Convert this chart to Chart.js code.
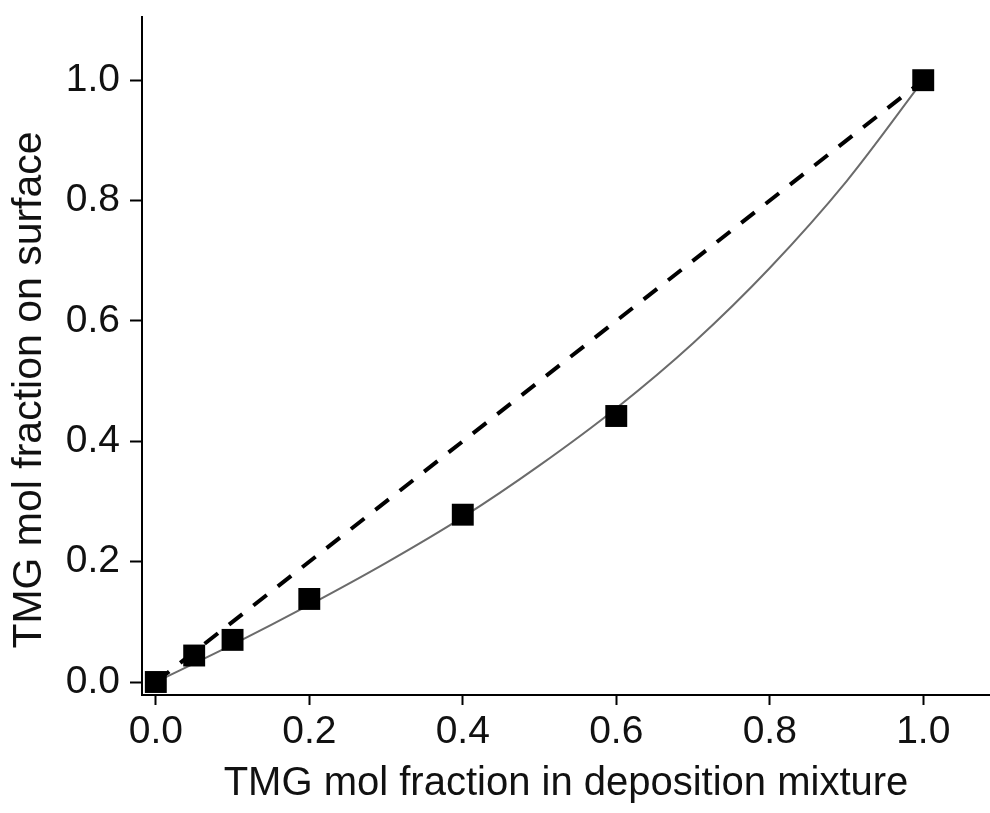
<!DOCTYPE html>
<html>
<head>
<meta charset="utf-8">
<script src="https://cdn.jsdelivr.net/npm/chart.js@4.4.1/dist/chart.umd.min.js"></script>
<style>
  html, body { margin: 0; padding: 0; background: #fff; overflow: hidden; }
  #wrap { width: 990px; height: 813px; position: relative; }
  #surfChart { display: block; }
</style>
</head>
<body>
<div id="wrap"><canvas id="surfChart"></canvas></div>
<script>
// measured points (TMG in mixture vs TMG on surface)
const mixFraction = [0, 0.05, 0.1, 0.2, 0.4, 0.6, 1.0];
const surfFraction = [0, 0.044, 0.07, 0.138, 0.278, 0.442, 1.0];

// fitted curve
const fitX = [0, 0.1, 0.2, 0.3, 0.4, 0.5, 0.6, 0.7, 0.8, 0.9, 1.0];
const fitY = [0, 0.062, 0.128, 0.198, 0.274, 0.36, 0.455, 0.563, 0.688, 0.832, 1.0];

// ideal (dashed) line
const idealX = [0, 1];
const idealY = [0, 1];

const xTicks = [0, 0.2, 0.4, 0.6, 0.8, 1.0];
const yTicks = [0, 0.2, 0.4, 0.6, 0.8, 1.0];

const yTitle = "TMG mol fraction on surface";

const toXY = (xs, ys) => xs.map((x, i) => ({ x: x, y: ys[i] }));

const fontFam = "'Liberation Sans', Arial, sans-serif";

// no extra padding from tick labels, the axes fill the canvas
function noPad(axis) {
    axis.paddingTop = 0;
    axis.paddingBottom = 0;
    axis.paddingLeft = 0;
    axis.paddingRight = 0;
}

// y title sits a bit below the middle of the axis in the original
const yTitlePlugin = {
    id: "yTitle",
    afterDraw(chart) {
        const c = chart.ctx;
        const area = chart.chartArea;
        c.save();
        c.translate(30, (area.top + area.bottom) / 2 + 34);
        c.rotate(-Math.PI / 2);
        c.font = "41px " + fontFam;
        c.fillStyle = "#111";
        c.textAlign = "center";
        c.textBaseline = "middle";
        c.fillText(yTitle, 0, 0);
        c.restore();
    },
};

const ctx = document.getElementById("surfChart").getContext("2d");
const chart = new Chart(ctx, {
    type: "scatter",
    data: {
        datasets: [
            {
                label: "measured",
                data: toXY(mixFraction, surfFraction),
                pointStyle: "rect",
                pointRadius: 15.5,
                pointHoverRadius: 15.5,
                backgroundColor: "#000",
                borderColor: "#000",
                borderWidth: 0,
                showLine: false,
                clip: false,
            },
            {
                label: "fit",
                data: toXY(fitX, fitY),
                showLine: true,
                borderColor: "#6b6b6b",
                borderWidth: 2,
                pointRadius: 0,
                cubicInterpolationMode: "monotone",
                fill: false,
            },
            {
                label: "ideal",
                data: toXY(idealX, idealY),
                showLine: true,
                borderColor: "#000",
                borderWidth: 4,
                borderDash: [17, 14],
                pointRadius: 0,
                fill: false,
            },
        ],
    },
    options: {
        responsive: true,
        maintainAspectRatio: false,
        animation: false,
        layout: { autoPadding: false, padding: { top: 17, right: 0, left: 0, bottom: 0 } },
        plugins: {
            legend: { display: false },
            tooltip: { enabled: false },
        },
        scales: {
            x: {
                type: "linear",
                min: -0.018,
                max: 1.087,
                afterBuildTicks: (axis) => { axis.ticks = xTicks.map(v => ({ value: v })); },
                afterFit: (axis) => { axis.height = 118; noPad(axis); },
                border: { display: true, color: "#000", width: 2 },
                grid: { drawOnChartArea: false, drawTicks: true, tickLength: 10, tickWidth: 2, tickColor: "#000" },
                ticks: {
                    color: "#111",
                    font: { family: fontFam, size: 39 },
                    padding: 4,
                    maxRotation: 0,
                    callback: (v) => v.toFixed(1),
                },
                title: {
                    display: true,
                    text: "TMG mol fraction in deposition mixture",
                    color: "#111",
                    font: { family: fontFam, size: 40 },
                    padding: { top: 5, bottom: 5 },
                },
            },
            y: {
                type: "linear",
                min: -0.0216,
                max: 1.105,
                afterBuildTicks: (axis) => { axis.ticks = yTicks.map(v => ({ value: v })); },
                afterFit: (axis) => { axis.width = 142; noPad(axis); },
                border: { display: true, color: "#000", width: 2 },
                grid: { drawOnChartArea: false, drawTicks: true, tickLength: 12, tickWidth: 2, tickColor: "#000" },
                ticks: {
                    color: "#111",
                    font: { family: fontFam, size: 39 },
                    padding: 10,
                    callback: (v) => v.toFixed(1),
                },
                title: { display: false },
            },
        },
    },
    plugins: [yTitlePlugin],
});
</script>
</body>
</html>
